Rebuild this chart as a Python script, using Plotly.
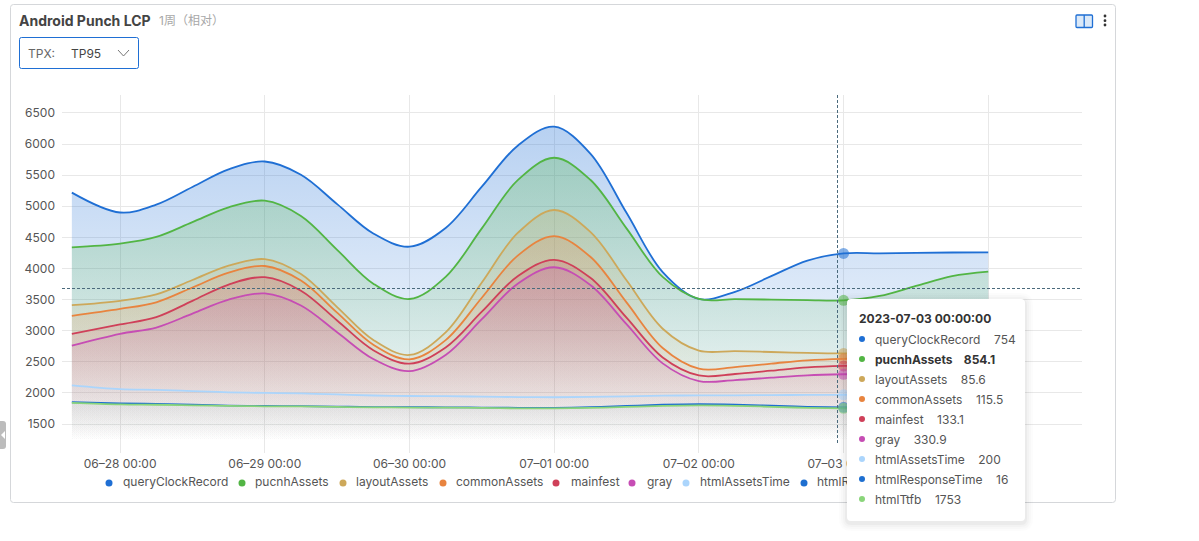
import numpy as np
import plotly.graph_objects as go

# six-hourly samples (first one is the 06-27 afternoon start)
times = ["2023-06-27 16:00", "2023-06-28 00:00", "2023-06-28 06:00", "2023-06-28 12:00", "2023-06-28 18:00",
         "2023-06-29 00:00", "2023-06-29 06:00", "2023-06-29 12:00", "2023-06-29 18:00",
         "2023-06-30 00:00", "2023-06-30 06:00", "2023-06-30 12:00", "2023-06-30 18:00",
         "2023-07-01 00:00", "2023-07-01 06:00", "2023-07-01 12:00", "2023-07-01 18:00",
         "2023-07-02 00:00", "2023-07-02 06:00", "2023-07-02 12:00", "2023-07-02 18:00",
         "2023-07-03 00:00", "2023-07-03 06:00", "2023-07-03 12:00", "2023-07-03 18:00",
         "2023-07-04 00:00"]

queryClockRecord = [880, 500, 520, 565, 610, 630, 663, 735, 807, 840, 787, 670, 553,
                    500, 422, 250, 78, 0, 118, 377, 636, 754, 685, 532, 379, 310]
pucnhAssets = [930, 920, 923, 930, 937, 940, 934, 920, 906, 900, 891, 870, 849,
               840, 838, 835, 832, 830, 834, 842, 850, 854.1, 925, 1082, 1239, 1310]
layoutAssets = [170, 130, 127, 120, 113, 110, 104, 90, 76, 70, 125, 245, 365,
                420, 400, 355, 310, 290, 258, 188, 118, 85.6, 78, 63, 47, 40]
commonAssets = [290, 250, 239, 215, 191, 180, 163, 125, 87, 70, 118, 225, 332,
                380, 338, 245, 152, 110, 111, 113, 115, 115.5, 116, 118, 119, 120]
mainfest = [190, 150, 167, 205, 243, 260, 238, 190, 142, 120, 120, 120, 120,
            120, 115, 105, 95, 90, 97, 112, 126, 133.1, 134, 137, 139, 140]
gray = [640, 890, 1001, 1245, 1489, 1600, 1413, 1000, 587, 400, 664, 1245, 1826,
        2090, 1800, 1160, 520, 230, 246, 280, 315, 330.9, 335, 345, 356, 360]
htmlAssetsTime = [270, 230, 227, 220, 213, 210, 205, 195, 185, 180, 178, 175, 172,
                  170, 165, 155, 145, 140, 149, 170, 191, 200, 202, 205, 208, 210]
htmlResponseTime = [10, 15, 13, 10, 7, 5, 5, 5, 5, 5, 6, 7, 9,
                    10, 12, 15, 18, 20, 19, 18, 17, 16, 16, 15, 15, 15]
htmlTtfb = [1840, 1815, 1810, 1800, 1790, 1785, 1782, 1775, 1768, 1765, 1763, 1758, 1752,
            1750, 1758, 1775, 1792, 1800, 1793, 1777, 1760, 1753, 1753, 1754, 1755, 1755]

names = ["queryClockRecord", "pucnhAssets", "layoutAssets", "commonAssets", "mainfest",
         "gray", "htmlAssetsTime", "htmlResponseTime", "htmlTtfb"]
series = [queryClockRecord, pucnhAssets, layoutAssets, commonAssets, mainfest,
          gray, htmlAssetsTime, htmlResponseTime, htmlTtfb]
colors = ["31,111,212", "82,181,68", "205,168,90", "232,132,63", "207,64,89",
          "198,77,180", "171,213,252", "30,111,208", "138,213,122"]
tooltipTime = "2023-07-03 00:00:00"
hoverIndex = 21
FONT = "Inter, Noto Sans CJK SC, sans-serif"

# the series are stacked, so each line sits on the sum of the ones below it
stacked = np.cumsum(np.array(series[::-1]), axis=0)[::-1]
gradientTop = float(stacked.max())

fig = go.Figure()

for name, color, y in zip(names, colors, stacked):
    fig.add_trace(go.Scatter(
        x=times, y=y, name=name, mode="lines", fill="tozeroy",
        line=dict(color="rgb(%s)" % color, width=1.8, shape="spline", smoothing=1),
        fillgradient=dict(
            type="vertical", start=1230, stop=gradientTop,
            colorscale=[[0, "rgba(%s,0)" % color], [1, "rgba(%s,0.32)" % color]]),
    ))

# hover halos on 07-03
for color, y in zip(colors, stacked):
    fig.add_trace(go.Scatter(
        x=[times[hoverIndex]], y=[y[hoverIndex]], mode="markers",
        marker=dict(color="rgb(%s)" % color, size=11, opacity=0.55),
    ))

# full-canvas axes so the card furniture can be placed in pixels
legendDotX = [109, 242, 343, 443, 556, 632, 686, 804, 950]
legendTextX = [123, 255, 356, 456, 571, 647, 700, 817, 963]
fig.add_trace(go.Scatter(
    x=legendDotX, y=[483] * 9, xaxis="x2", yaxis="y2", mode="markers",
    marker=dict(color=["rgb(%s)" % c for c in colors], size=7),
))
fig.add_trace(go.Scatter(
    x=legendTextX, y=[483] * 9, xaxis="x2", yaxis="y2", mode="text", text=names,
    textposition="middle right", textfont=dict(family=FONT, size=12, color="#555555"),
))


def box(x0, y0, x1, y1, r):
    return ("M%g,%g L%g,%g Q%g,%g %g,%g L%g,%g Q%g,%g %g,%g L%g,%g Q%g,%g %g,%g L%g,%g Q%g,%g %g,%g Z"
            % (x0 + r, y0, x1 - r, y0, x1, y0, x1, y0 + r, x1, y1 - r, x1, y1, x1 - r, y1,
               x0 + r, y1, x0, y1, x0, y1 - r, x0, y0 + r, x0, y0, x0 + r, y0))


def pixel_shape(**kw):
    fig.add_shape(xref="x2", yref="y2", **kw)


pixel_shape(type="path", path=box(10.5, 4.5, 1115.5, 502.5, 3), line=dict(color="#d5d7da", width=1), layer="below")
pixel_shape(type="path", path=box(19.5, 37.5, 138.5, 68.5, 2), line=dict(color="#1f6fd4", width=1), fillcolor="white")
pixel_shape(type="path", path="M118,50 L123.5,56 L129,50", line=dict(color="#777777", width=1))
pixel_shape(type="path", path=box(-4, 421, 6, 449, 3), fillcolor="#bcbcbc", line=dict(width=0))
pixel_shape(type="path", path="M1,435 L5,431 L5,439 Z", fillcolor="white", line=dict(width=0))

# book icon and kebab menu
pixel_shape(type="path", path=box(1076, 15, 1092.5, 27.5, 1), line=dict(color="#1f6fd4", width=1.3), fillcolor="#dbe9f8")
pixel_shape(type="line", x0=1084.2, x1=1084.2, y0=15, y1=27.5, line=dict(color="#1f6fd4", width=1.3))
for dotY in [16, 20.7, 25]:
    pixel_shape(type="circle", x0=1103.6, x1=1106.4, y0=dotY - 1.4, y1=dotY + 1.4, fillcolor="#333333", line=dict(width=0))

# crosshair
pixel_shape(type="line", x0=837.5, x1=837.5, y0=95, y1=445, line=dict(color="#4a6a7c", width=1, dash="3px,2px"))
pixel_shape(type="line", x0=62, x1=1082, y0=288.5, y1=288.5, line=dict(color="#4a6a7c", width=1, dash="3px,2px"))

# tooltip with a soft shadow
for grow, alpha in [(8, 0.012), (6, 0.015), (4, 0.02), (2, 0.03)]:
    pixel_shape(type="path", path=box(847 - grow, 299 - grow + 2, 1025 + grow, 521 + grow + 2, 4 + grow),
                fillcolor="rgba(0,0,0,%g)" % alpha, line=dict(width=0))
pixel_shape(type="path", path=box(847, 299, 1025, 521, 4), fillcolor="white", line=dict(width=0))


def label(x, y, text, size=12, color="#555555"):
    # annotations sit about 2px right of their anchor
    fig.add_annotation(x=x - 2, y=y, xref="x2", yref="y2", text=text, showarrow=False, xanchor="left",
                       yanchor="middle", font=dict(family=FONT, size=size, color=color))


label(19, 20, "<b>Android Punch LCP</b>", size=14, color="#444444")
label(159, 20, "1周（相对）", size=12, color="#a8a8a8")
label(28, 53, "TPX:", size=12, color="#666666")
label(71, 53, "TP95", size=12, color="#444444")

label(859, 318, "<b>%s</b>" % tooltipTime, size=12, color="#333333")
for i, (name, values, color) in enumerate(zip(names, series, colors)):
    rowY = 339 + 20 * i
    pixel_shape(type="circle", x0=859, x1=865, y0=rowY - 3, y1=rowY + 3, fillcolor="rgb(%s)" % color, line=dict(width=0))
    text = "%s\u00a0\u00a0\u00a0\u00a0%g" % (name, values[hoverIndex])
    if name == "pucnhAssets":
        label(875, rowY, "<b>%s</b>" % text, color="#333333")
    else:
        label(875, rowY, text)

fig.update_layout(
    width=1199, height=541, margin=dict(l=0, r=0, t=0, b=0),
    paper_bgcolor="white", plot_bgcolor="rgba(0,0,0,0)", showlegend=False,
    font=dict(family=FONT, size=12, color="#555555"),
    xaxis=dict(
        type="date", domain=[62 / 1199, 1082 / 1199],
        range=["2023-06-27 14:22", "2023-07-04 15:33"],
        tickvals=["2023-06-28", "2023-06-29", "2023-06-30", "2023-07-01", "2023-07-02", "2023-07-03", "2023-07-04"],
        tickformat="%m\u2013%d %H:%M", showgrid=True, gridcolor="#e8e8e8", zeroline=False,
        ticklabelstandoff=2,
    ),
    yaxis=dict(
        domain=[1 - 453 / 541, 1 - 95 / 541], range=[1034, 6789],
        tickvals=[1500, 2000, 2500, 3000, 3500, 4000, 4500, 5000, 5500, 6000, 6500],
        showgrid=True, gridcolor="#e8e8e8", zeroline=False, ticklabelstandoff=6,
    ),
    xaxis2=dict(domain=[0, 1], range=[0, 1199], visible=False, anchor="y2"),
    yaxis2=dict(domain=[0, 1], range=[541, 0], visible=False, anchor="x2"),
)

# the default page margin would push the fixed-size figure off by 8px
fig.write_html("out.html", config=dict(displayModeBar=False), post_script="document.body.style.margin='0';")
